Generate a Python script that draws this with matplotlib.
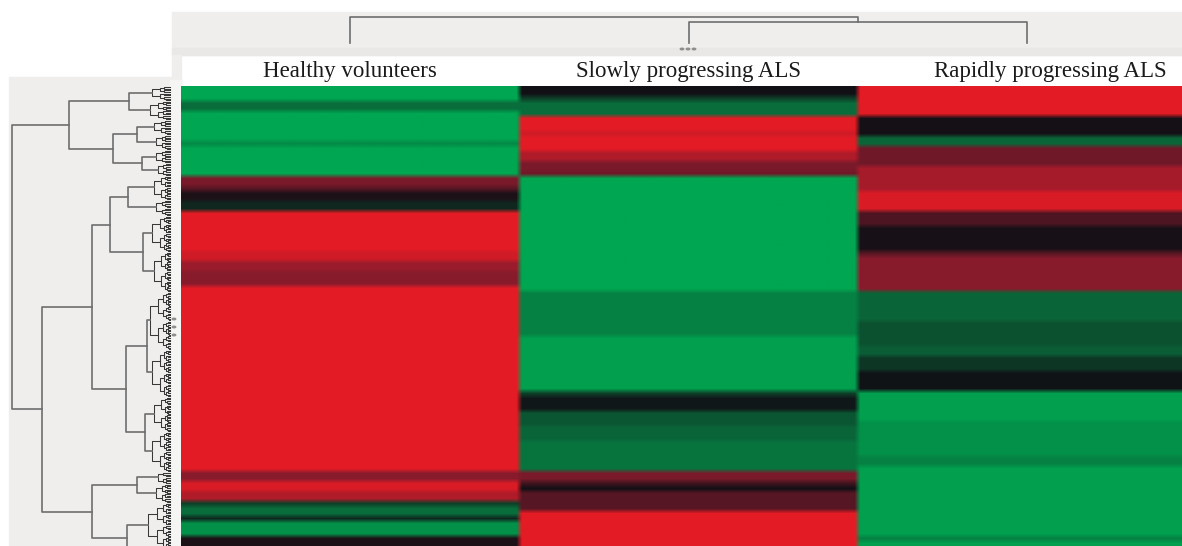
import numpy as np
import matplotlib
matplotlib.use("Agg")
import matplotlib.pyplot as plt
from matplotlib.colors import LinearSegmentedColormap
from matplotlib.patches import Rectangle, Circle
from matplotlib.transforms import blended_transform_factory

# -- heatmap: run-length bands per group (n_rows, value), -1 green .. 0 black .. +1 red
GROUPS = ["Healthy volunteers", "Slowly progressing ALS", "Rapidly progressing ALS"]
HEALTHY = [(3, -1.0), (2, -0.6), (6, -1.0), (1, -0.8), (6, -1.0), (2, 0.45), (1, 0.3),
           (2, 0.05), (2, -0.15), (8, 0.95), (2, 0.85), (2, 0.6), (3, 0.5), (37, 0.95),
           (2, 0.5), (2, 0.9), (2, 0.7), (1, -0.3), (2, -0.6), (1, -0.15), (3, -0.85),
           (2, 0.05)]
SLOWLY = [(2, 0.0), (1, -0.3), (3, -0.6), (3, 0.95), (1, 0.85), (3, 0.95), (2, 0.7),
          (2, 0.45), (1, 0.4), (23, -1.0), (9, -0.75), (11, -0.95), (1, -0.3), (3, -0.05),
          (3, -0.45), (3, -0.55), (6, -0.65), (2, 0.45), (1, 0.2), (1, 0.0), (4, 0.3),
          (7, 0.95)]
RAPIDLY = [(6, 0.95), (4, 0.02), (2, -0.55), (4, 0.4), (5, 0.65), (4, 0.9), (3, 0.25),
           (5, 0.03), (1, 0.3), (7, 0.5), (6, -0.55), (5, -0.42), (2, -0.5), (3, -0.25),
           (4, -0.02), (6, -0.95), (7, -0.85), (2, -0.75), (14, -0.95), (1, -0.75),
           (1, -0.95)]
N_ROWS = 92

# -- row dendrogram: leaf groups (row_start, row_end, join height) + tree (height, left, right)
LEAF_GROUPS = {
    "A1a": (0, 3, 18), "A1b": (3, 6.8, 20),
    "A2a1": (6.8, 9.8, 16), "A2a2": (9.8, 12.8, 14),
    "A2b1": (12.8, 15.4, 14), "A2b2": (15.4, 18, 12),
    "B1a1a": (18, 22.8, 16), "B1a1b": (22.8, 26, 14),
    "B1a2a": (26, 33.2, 18), "B1a2b": (33.2, 41.2, 16),
    "B1b1a": (41.2, 52.8, 20), "B1b1b": (52.8, 62.2, 18),
    "B1b2a": (62.2, 69.2, 16), "B1b2b": (69.2, 77.2, 18),
    "B2a1": (77.2, 79.6, 12), "B2a2": (79.6, 83.4, 14),
    "B2b1": (83.4, 92.6, 22), "B2b2": (92.6, 93.6, 8),
}
ROW_TREE = (158,
            (101,
             (41, "A1a", "A1b"),
             (57, (33, "A2a1", "A2a2"), (28, "A2b1", "A2b2"))),
            (128,
             (78,
              (60, (42, "B1a1a", "B1a1b"), (27, "B1a2a", "B1a2b")),
              (44, (23, "B1b1a", "B1b1b"), (25, "B1b2a", "B1b2b"))),
             (78, (33, "B2a1", "B2a2"), (43, "B2b1", "B2b2"))))
LEAF_STEP = 0.32

# -- column dendrogram
COL_TREE = (26, 0, (21, 1, 2))

W, H = 1182, 546
LINE = "#6e6e6e"
PANEL = "#efeeec"
cmap = LinearSegmentedColormap.from_list(
    "gbr", ["#00a651", "#0b5e36", "#111015", "#861b2d", "#ed1c24"])


def fx(px):
    return px / W


def fy(py):
    return 1 - py / H


def runs_to_col(runs):
    col = np.concatenate([np.full(n, v) for n, v in runs])
    assert len(col) == N_ROWS, len(col)
    return col


def split(ax, ys, h):
    if len(ys) == 1:
        return ys[0], 0.0
    m = len(ys) // 2
    ya, ha = split(ax, ys[:m], h * 0.58)
    yb, hb = split(ax, ys[m:], h * 0.58)
    ax.plot([ha, h, h, hb], [ya, ya, yb, yb], color="#383838", lw=0.75)
    return (ya + yb) / 2, h


def draw_node(ax, node):
    if isinstance(node, str):
        r0, r1, h = LEAF_GROUPS[node]
        n = max(1, int(round((r1 - r0) / LEAF_STEP)))
        ys = r0 + (np.arange(n) + 0.5) * (r1 - r0) / n
        return split(ax, list(ys), h)
    h, a, b = node
    ya, ha = draw_node(ax, a)
    yb, hb = draw_node(ax, b)
    ax.plot([ha, h, h, hb], [ya, ya, yb, yb], color=LINE, lw=1.2)
    return (ya + yb) / 2, h


def draw_col(ax, node):
    if not isinstance(node, tuple):
        return node + 0.5, 0.0
    h, a, b = node
    xa, ha = draw_col(ax, a)
    xb, hb = draw_col(ax, b)
    ax.plot([xa, xa, xb, xb], [ha, h, h, hb], color=LINE, lw=1.2)
    return (xa + xb) / 2, h


def bg(x0, y0, x1, y1, color):
    # pixel box (top-left origin) -> figure background rectangle
    fig.patches.append(Rectangle((fx(x0), fy(y1)), fx(x1 - x0), fy(y0) - fy(y1),
                                 transform=fig.transFigure, color=color, zorder=-5))


fig = plt.figure(figsize=(W / 100, H / 100), dpi=100)
fig.patch.set_facecolor("white")

# background panels
bg(9, 77, 181, H, PANEL)
bg(172, 12, W, 55, PANEL)
bg(172, 48, W, 55, "#e9e8e6")
bg(172, 55, 181, 86, PANEL)
bg(170, 80, 181, H, "#f5f5f3")

# heatmap
mat = np.column_stack([runs_to_col(r) for r in (HEALTHY, SLOWLY, RAPIDLY)])
mat = np.repeat(mat, 60, axis=1)
ax = fig.add_axes([fx(181), 0, fx(1196 - 181), fy(86)])
ax.imshow(mat, cmap=cmap, vmin=-1, vmax=1, aspect="auto", interpolation="bilinear",
          interpolation_stage="rgba", extent=(0, 3, N_ROWS, 0))
ax.set_xlim(0, 3)
ax.set_ylim(N_ROWS, 0)
ax.set_axis_off()

tr = blended_transform_factory(ax.transData, fig.transFigure)
for x, lab in zip([0.5, 1.5, 2.57], GROUPS):
    ax.text(x, fy(71), lab, transform=tr, ha="center", va="center",
            fontsize=16.5, family="Liberation Serif", color="#1a1a1a")

# row dendrogram
axl = fig.add_axes([fx(10), 0, fx(172 - 10), fy(86)])
axl.patch.set_alpha(0)
draw_node(axl, ROW_TREE)
axl.set_xlim(160, -2)
axl.set_ylim(N_ROWS, 0)
axl.set_axis_off()

# column dendrogram
axt = fig.add_axes([fx(181), fy(48), fx(1196 - 181), fy(12) - fy(48)])
axt.patch.set_alpha(0)
draw_col(axt, COL_TREE)
axt.set_xlim(0, 3)
axt.set_ylim(-5, 31)
axt.set_axis_off()

# collapsed-branch markers
for dx in (-6, 0, 6):
    fig.patches.append(Circle((fx(688 + dx), fy(49)), 1.7 / W, transform=fig.transFigure,
                              color="#8f8f8f", zorder=5))
for dy in (-8, 0, 8):
    fig.patches.append(Circle((fx(174), fy(327 + dy)), 1.7 / W, transform=fig.transFigure,
                              color="#8f8f8f", zorder=5))

fig.savefig("out.png", dpi=100)
